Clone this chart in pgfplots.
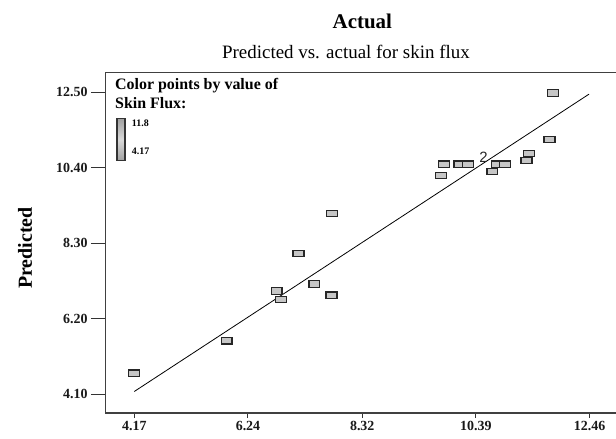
\documentclass[border=0pt]{standalone}
\usepackage{fontspec}
\setmainfont{Liberation Serif}
\newfontfamily\sansf{Liberation Sans}
\usepackage{pgfplots}
\pgfplotsset{compat=1.18}
\begin{document}
\begin{tikzpicture}
\useasboundingbox (-105.5bp,-26bp) rectangle (510.5bp,413bp);
\begin{axis}[
  at={(0,0)}, anchor=south west,
  scale only axis, width=510.5bp, height=340.3bp,
  xmin=3.646, xmax=12.94, ymin=3.571, ymax=13.046,
  axis x line=bottom, axis y line=left,
  axis line style={-, line width=1.1bp, black!75},
  xtick=\empty,
  ytick={4.10,6.20,8.30,10.40,12.50},
  yticklabels={4.10,6.20,8.30,10.40,12.50},
  tick align=outside, major tick length=14.5bp,
  tick style={line width=1bp, black!80},
  yticklabel style={font=\bfseries\fontsize{14}{16}\selectfont, text=black!90},
  ylabel={Predicted},
  ylabel style={at={(axis description cs:-0.1577,0.485)}, anchor=center, rotate=0, font=\bfseries\fontsize{20}{22}\selectfont},
  clip=false,
]
\addplot[black, line width=0.8bp] coordinates {(4.17,4.17) (12.45,12.45)};
\addplot[only marks, mark=square*, mark size=3.2bp,
  mark options={xscale=1.7, fill=gray!45, draw=black!85, line width=1.2bp}] table {
x y
9.81 10.50
9.75 10.18
10.09 10.50
10.25 10.50
10.77 10.50
10.92 10.50
10.69 10.30
11.36 10.80
11.31 10.60
11.73 11.19
11.79 12.48
7.77 9.13
7.16 8.01
7.45 7.16
7.76 6.85
6.76 6.97
6.84 6.73
5.85 5.58
4.17 4.68
};
\node[font=\sansf\fontsize{15}{15}\selectfont, text=black!85] at (axis cs:10.53,10.68) {2};
\draw[line width=1.1bp, black!75] (rel axis cs:0,1) -- (rel axis cs:1,1);
\node[font=\bfseries\fontsize{21}{21}\selectfont] at (axis description cs:0.503,1.152) {Actual};
\node[font=\fontsize{19}{19}\selectfont] at (axis description cs:0.471,1.0617) {Predicted vs. actual for skin flux};
\node[anchor=north west, inner sep=0pt, align=left, font=\bfseries\fontsize{16}{18.7}\selectfont] at (axis description cs:0.0186,0.9844) {Color points by value of\\Skin Flux:};
\draw[black!80, line width=1.2bp, shading=axis, top color=gray!75, bottom color=gray!75, middle color=gray!30] (axis description cs:0.0225,0.741) rectangle (axis description cs:0.0382,0.866);
\node[anchor=west, inner sep=0pt, font=\bfseries\fontsize{10}{10}\selectfont] at (axis description cs:0.0513,0.851) {11.8};
\node[anchor=west, inner sep=0pt, font=\bfseries\fontsize{10}{10}\selectfont] at (axis description cs:0.0513,0.768) {4.17};
\end{axis}
\begin{axis}[
  at={(0,0)}, anchor=south west,
  scale only axis, width=510.5bp, height=340.3bp,
  xmin=3.646, xmax=12.94, ymin=3.571, ymax=13.046,
  axis x line=bottom, axis y line=none,
  axis line style={-, line width=1.1bp, black!75},
  xtick={4.17,6.24,8.32,10.39,12.46},
  xticklabels={4.17,6.24,8.32,10.39,12.46},
  tick align=outside, major tick length=5bp,
  tick style={line width=1bp, black!80},
  xticklabel style={font=\bfseries\fontsize{14}{16}\selectfont, text=black!90},
]
\end{axis}
\end{tikzpicture}
\end{document}
